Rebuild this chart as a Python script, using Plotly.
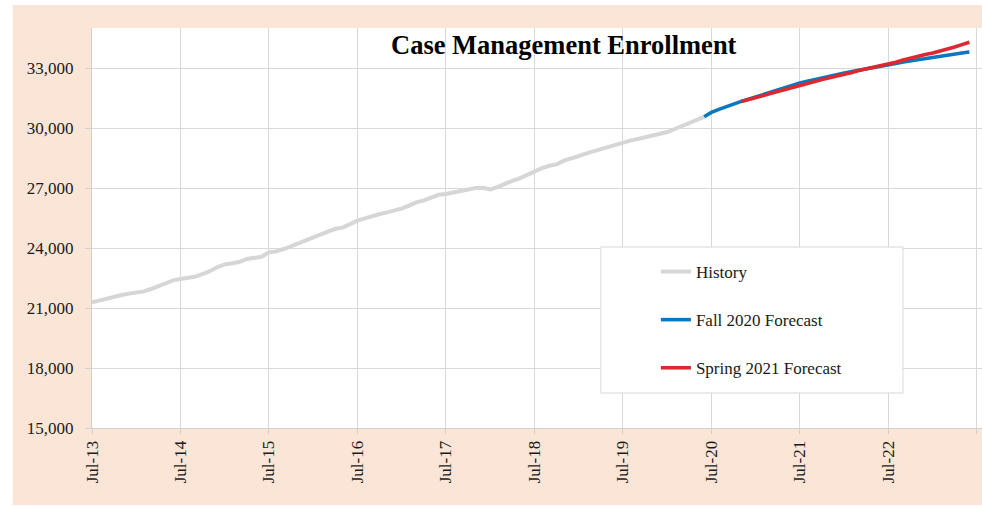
import pandas as pd
import plotly.graph_objects as go

# ---------------- data ----------------
history_start = "2013-07-01"
history = [
    21280, 21380, 21460, 21560, 21650, 21720, 21790, 21830, 21950, 22110, 22250, 22380,  # Jul-13 .. Jun-14
    22450, 22510, 22570, 22700, 22850, 23050, 23180, 23240, 23300, 23450, 23520, 23560,  # Jul-14 .. Jun-15
    23780, 23830, 23950, 24100, 24270, 24420, 24570, 24680, 24820, 24960, 25020, 25200,  # Jul-15 .. Jun-16
    25370, 25480, 25600, 25700, 25780, 25870, 25980, 26130, 26280, 26380, 26500, 26660,  # Jul-16 .. Jun-17
    26700, 26780, 26840, 26900, 27000, 27010, 26930, 27060, 27220, 27360, 27480, 27650,  # Jul-17 .. Jun-18
    27850, 27990, 28110, 28180, 28370, 28460, 28600, 28730, 28830, 28930, 29060, 29200,  # Jul-18 .. Jun-19
    29280, 29370, 29450, 29530, 29600, 29680, 29800, 29950, 30100, 30250, 30400, 30560,  # Jul-19 .. Jun-20
]

fall_start = "2020-06-01"
fall_2020 = [
    30560,                                                                                # Jun-20
    30780, 30930, 31080, 31200, 31330, 31440, 31560, 31680, 31800, 31920, 32030, 32140,  # Jul-20 .. Jun-21
    32250, 32340, 32430, 32510, 32590, 32670, 32750, 32820, 32890, 32960, 33030, 33090,  # Jul-21 .. Jun-22
    33160, 33230, 33300, 33360, 33420, 33470, 33530, 33590, 33640, 33700, 33750, 33800,  # Jul-22 .. Jun-23
]

spring_start = "2020-11-01"
spring_2021 = [
    31330, 31410, 31510, 31620, 31720, 31830, 31940, 32050,                              # Nov-20 .. Jun-21
    32150, 32240, 32330, 32420, 32500, 32590, 32680, 32770, 32870, 32950, 33030, 33110,  # Jul-21 .. Jun-22
    33190, 33290, 33400, 33500, 33590, 33680, 33750, 33840, 33930, 34050, 34170, 34290,  # Jul-22 .. Jun-23
]

series_names = ["History", "Fall 2020 Forecast", "Spring 2021 Forecast"]
series_colors = ["#D6D6D6", "#0A78BE", "#DC2830"]
title_text = "Case Management Enrollment"

x_tick_start = "2013-07-01"
x_tick_count = 11          # Jul-13 .. Jul-23
y_min, y_max, y_step = 15000, 35000, 3000

# ---------------- figure ----------------
W, H = 982, 506
L, R, T, B = 92.3, 982, 28, 428   # plot area in pixels
pw, ph = R - L, B - T

def px_x(x):                 # pixel x -> paper
    return (x - L) / pw

def px_y(y):                 # pixel y -> paper
    return (B - y) / ph

hist_x = pd.date_range(history_start, periods=len(history), freq="MS")
fall_x = pd.date_range(fall_start, periods=len(fall_2020), freq="MS")
spring_x = pd.date_range(spring_start, periods=len(spring_2021), freq="MS")
tick_x = pd.date_range(x_tick_start, periods=x_tick_count, freq="12MS")

fig = go.Figure()
for name, xs, ys, color, width, grp in [
    (series_names[0], hist_x, history, series_colors[0], 4, "g1"),
    (series_names[1], fall_x, fall_2020, series_colors[1], 3.6, "g2"),
    (series_names[2], spring_x, spring_2021, series_colors[2], 3.6, "g3"),
]:
    fig.add_trace(go.Scatter(
        x=xs, y=ys, name=name, mode="lines", legendgroup=grp,
        line=dict(color=color, width=width, shape="linear"),
        hoverinfo="x+y",
    ))

serif = "Liberation Serif, Times New Roman, serif"

fig.update_layout(
    width=W, height=H,
    margin=dict(l=L, r=W - R, t=T, b=H - B, pad=0),
    paper_bgcolor="white",
    plot_bgcolor="white",
    font=dict(family=serif, size=17, color="#1a1a1a"),
    showlegend=True,
    legend=dict(
        x=px_x(656), y=px_y(254), xanchor="left", yanchor="top",
        bgcolor="rgba(0,0,0,0)", borderwidth=0,
        font=dict(family=serif, size=17, color="#1a1a1a"),
        tracegroupgap=23, itemwidth=30,
    ),
    xaxis=dict(
        type="date",
        range=["2013-07-01", "2023-07-23"],
        tickvals=tick_x, tickformat="%b-%y",
        tickangle=-90,
        showgrid=True, gridcolor="#D9D9D9", gridwidth=1,
        showline=True, linecolor="#D0D0D0", linewidth=1,
        ticks="outside", ticklen=5, tickcolor="#D0D0D0",
        zeroline=False,
        tickfont=dict(family=serif, size=17, color="#1a1a1a"),
    ),
    yaxis=dict(
        range=[y_min, y_max],
        tick0=y_min, dtick=y_step, tickformat=",d",
        showgrid=True, gridcolor="#D9D9D9", gridwidth=1,
        showline=True, linecolor="#D0D0D0", linewidth=1,
        ticks="outside", ticklen=6, tickcolor="#D0D0D0",
        zeroline=False,
        tickfont=dict(family=serif, size=17, color="#1a1a1a"),
        ticklabelstandoff=8,
    ),
    shapes=[
        # peach chart-area background
        dict(type="rect", xref="paper", yref="paper", layer="below",
             x0=px_x(13), x1=1, y0=px_y(505), y1=px_y(5),
             fillcolor="#FBE5D6", line=dict(width=0)),
        # white plot area
        dict(type="rect", xref="paper", yref="paper", layer="below",
             x0=0, x1=1, y0=0, y1=1,
             fillcolor="white", line=dict(width=0)),
        # legend box
        dict(type="rect", xref="paper", yref="paper", layer="above",
             x0=px_x(601), x1=px_x(903), y0=px_y(393), y1=px_y(247),
             fillcolor="white", line=dict(color="#D9D9D9", width=1)),
    ],
    annotations=[
        dict(text="<b>" + title_text + "</b>", xref="paper", yref="paper",
             x=px_x(564.5), y=px_y(45), xanchor="center", yanchor="middle",
             showarrow=False, font=dict(family=serif, size=26.5, color="black")),
    ],
)

page_css = (
    "document.documentElement.style.overflow='hidden';"
    "document.body.style.margin='0';"
    "document.body.style.overflow='hidden';"
)
fig.write_html("out.html", post_script=page_css, config={"displayModeBar": False})
